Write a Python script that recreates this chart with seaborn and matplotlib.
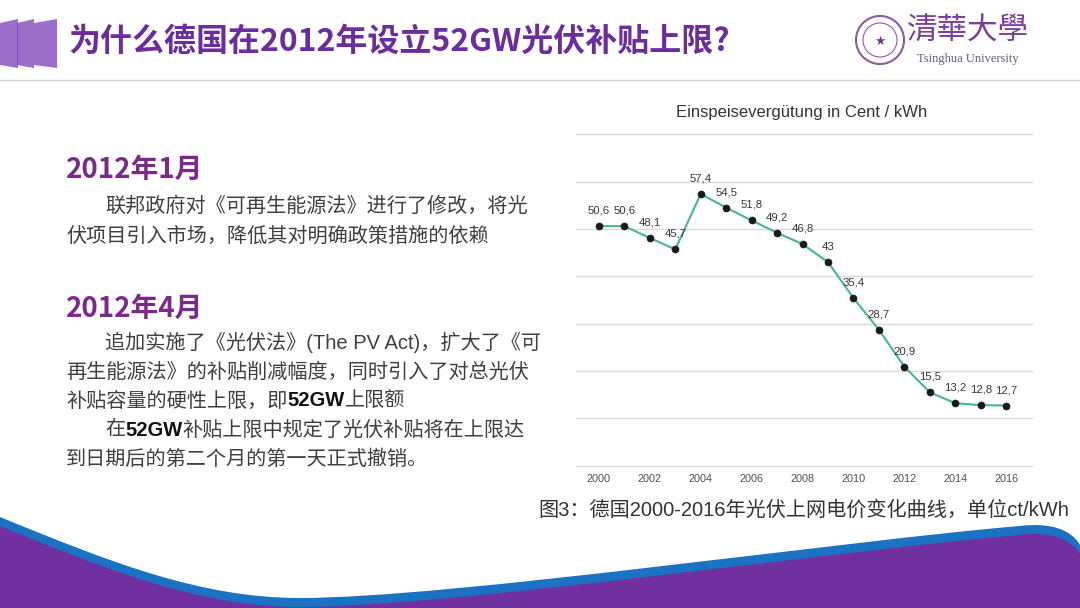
import pandas as pd
import matplotlib.pyplot as plt
import seaborn as sns
from matplotlib.path import Path
from matplotlib.patches import PathPatch, Polygon, Circle

# data
years = list(range(2000, 2017))
tariff = [50.6, 50.6, 48.1, 45.7, 57.4, 54.5, 51.8, 49.2, 46.8, 43.0,
          35.4, 28.7, 20.9, 15.5, 13.2, 12.8, 12.7]
year_ticks = list(range(2000, 2017, 2))
y_grid = list(range(0, 71, 10))

chart_title = "Einspeisevergütung in Cent / kWh"
slide_title = "为什么德国在2012年设立52GW光伏补贴上限?"
caption = "图3：德国2000-2016年光伏上网电价变化曲线，单位ct/kWh"

df = pd.DataFrame({"year": years, "tariff": tariff})
df["label"] = [f"{v:g}".replace(".", ",") for v in tariff]

sns.set_theme(style="white")
CJK = ["Noto Sans CJK SC", "DejaVu Sans"]
BODY = ["Liberation Sans", "Noto Sans CJK SC", "DejaVu Sans"]
plt.rcParams["font.family"] = CJK

PURPLE = "#6b2c9f"
HEAD = "#7b2a8c"
TEXT = "#3f3f3f"

fig = plt.figure(figsize=(10.8, 6.08), dpi=100)
fig.patch.set_facecolor("white")

# background axes in pixel coordinates
bg = fig.add_axes([0, 0, 1, 1])
bg.set_xlim(0, 1080)
bg.set_ylim(608, 0)
bg.axis("off")

# header bars
for x0, x1 in [(0, 18), (17, 34), (34, 57)]:
    bg.add_patch(Polygon([(x0, 23), (x1, 19), (x1, 68), (x0, 65)],
                         closed=True, facecolor="#7a3db8", alpha=0.75, lw=0))
bg.plot([0, 1080], [80, 80], color="#d6cce0", lw=1)

bg.text(68, 42, slide_title, fontsize=23, fontweight="bold", color=PURPLE,
        va="center", ha="left", family=CJK)

# logo
bg.add_patch(Circle((880, 40), 24, facecolor="none", edgecolor="#8a5aa8", lw=1.5))
bg.add_patch(Circle((880, 40), 17, facecolor="none", edgecolor="#8a5aa8", lw=0.8))
bg.text(880, 41, "★", fontsize=9, color="#6a3a88", ha="center", va="center",
        family=["DejaVu Sans"])
bg.text(968, 31, "清華大學", fontsize=22, color="#7d3f9e", ha="center", va="center",
        family=["Noto Sans CJK TC", "DejaVu Sans"])
bg.text(968, 59, "Tsinghua University", fontsize=9, color="#6a5a7a", ha="center",
        va="center", family=["Liberation Serif"])

# bottom wave
verts = [(0, 517), (110, 562), (200, 598), (300, 598),
         (450, 598), (850, 540), (1020, 526),
         (1050, 522), (1072, 530), (1080, 545),
         (1080, 608), (0, 608), (0, 517)]
codes = [Path.MOVETO, Path.CURVE4, Path.CURVE4, Path.CURVE4,
         Path.CURVE4, Path.CURVE4, Path.CURVE4,
         Path.CURVE4, Path.CURVE4, Path.CURVE4,
         Path.LINETO, Path.LINETO, Path.CLOSEPOLY]
bg.add_patch(PathPatch(Path(verts, codes), facecolor="#1b72c2", lw=0))
verts2 = [(x, y + 9) if y < 608 else (x, y) for x, y in verts]
bg.add_patch(PathPatch(Path(verts2, codes), facecolor="#7030a0", lw=0))

# left text block
fig.canvas.draw()
renderer = fig.canvas.get_renderer()


def runs(x, y, parts, size=14.5):
    for txt, bold in parts:
        t = bg.text(x, y, txt, fontsize=size, color="#111111" if bold else TEXT,
                    fontweight="bold" if bold else "normal",
                    va="center", ha="left", family=BODY)
        x += t.get_window_extent(renderer=renderer).width


bg.text(66, 170, "2012年1月", fontsize=20, fontweight="bold", color=HEAD,
        va="center", ha="left", family=CJK)
runs(105, 206, [("联邦政府对《可再生能源法》进行了修改，将光", False)])
runs(66, 236, [("伏项目引入市场，降低其对明确政策措施的依赖", False)])

bg.text(66, 309, "2012年4月", fontsize=20, fontweight="bold", color=HEAD,
        va="center", ha="left", family=CJK)
runs(105, 342, [("追加实施了《光伏法》(The PV Act)，扩大了《可", False)])
runs(66, 372, [("再生能源法》的补贴削减幅度，同时引入了对总光伏", False)])
runs(66, 401, [("补贴容量的硬性上限，即", False), ("52GW", True), ("上限额", False)])
runs(105, 430, [("在", False), ("52GW", True), ("补贴上限中规定了光伏补贴将在上限达", False)])
runs(66, 459, [("到日期后的第二个月的第一天正式撤销。", False)])

# chart
bg.text(802, 112, chart_title, fontsize=12, color="#333333", ha="center",
        va="center", family=["Liberation Sans"])
bg.text(1069, 510, caption, fontsize=14.5, color="#333333", ha="right",
        va="center", family=BODY)

ax = fig.add_axes([576 / 1080, 1 - 465.7 / 608, 455.7 / 1080, 331.4 / 608])
ax.patch.set_alpha(0)
sns.lineplot(data=df, x="year", y="tariff", ax=ax, color="#45b59a", lw=1.5)
sns.scatterplot(data=df, x="year", y="tariff", ax=ax, color="#1a1a1a", s=26,
                edgecolor="#1a1a1a", zorder=3)
for _, r in df.iterrows():
    ax.annotate(r["label"], (r["year"], r["tariff"]), xytext=(0, 11.2),
                textcoords="offset points", ha="center", va="center",
                fontsize=8.2, color="#383838", family=["Liberation Sans"])

ax.set_xlim(1999.1, 2017.0)
ax.set_ylim(0, 70)
ax.set_xticks(year_ticks)
ax.set_yticks(y_grid)
ax.set_yticklabels([])
ax.tick_params(axis="x", length=0, pad=6, labelsize=7.8, labelcolor="#505050")
ax.tick_params(axis="y", length=0)
for lab in ax.get_xticklabels():
    lab.set_family(["Liberation Sans"])
ax.set_xlabel("")
ax.set_ylabel("")
ax.grid(axis="y", color="#d9d9d9", lw=1)
for gl in ax.get_ygridlines():
    gl.set_clip_on(False)
ax.set_axisbelow(True)
sns.despine(ax=ax, left=True, bottom=True)

plt.savefig("out.png", dpi=100)
